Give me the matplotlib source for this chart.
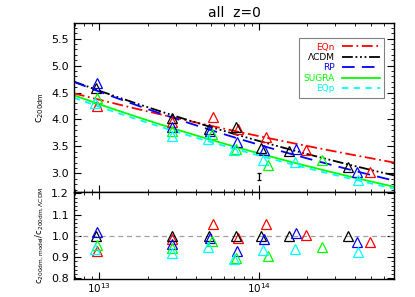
"""Concentration-mass relation for the dark-energy models at z=0, with ratios to LCDM."""

import numpy as np
import matplotlib
matplotlib.use("Agg")
import matplotlib.pyplot as plt
from matplotlib.ticker import MultipleLocator, LogLocator, NullFormatter

plt.rcParams["mathtext.default"] = "regular"

# ---- data --------------------------------------------------------------
models = ["EQn", "ΛCDM", "RP", "SUGRA", "EQp"]
colors = ["#ff0000", "#000000", "#0000ff", "#00ff00", "#00ffff"]
styles = [(0, (6, 2, 1, 2)), (0, (6, 1.5, 1, 1.5, 1, 1.5, 1, 1.5)),
          (0, (7, 4)), "-", (0, (3.5, 3))]

mass_eqn = [9.7e12, 2.86e13, 5.16e13, 7.39e13, 1.11e14, 1.96e14, 4.93e14]
conc_eqn = [4.25, 3.96, 4.04, 3.82, 3.68, 3.43, 3.02]

mass_lcdm = [9.5e12, 2.84e13, 4.85e13, 7.15e13, 1.03e14, 1.54e14, 3.60e14]
conc_lcdm = [4.58, 4.02, 3.83, 3.86, 3.48, 3.42, 3.11]

mass_rp = [9.6e12, 2.86e13, 4.91e13, 7.25e13, 1.07e14, 1.69e14, 4.10e14]
conc_rp = [4.67, 3.86, 3.79, 3.58, 3.43, 3.46, 3.02]

mass_sugra = [9.7e12, 2.86e13, 5.05e13, 7.2e13, 1.13e14, 2.47e14]
conc_sugra = [4.39, 3.79, 3.73, 3.45, 3.15, 3.24]

mass_eqp = [9.4e12, 2.84e13, 4.78e13, 6.98e13, 1.06e14, 1.67e14, 4.16e14]
conc_eqp = [4.30, 3.70, 3.63, 3.43, 3.25, 3.21, 2.87]

# power-law fits c = A (M / 1e14)^B
fit_norm = [3.69, 3.60, 3.53, 3.37, 3.33]
fit_slope = [-0.073, -0.100, -0.107, -0.104, -0.1045]

masses = [mass_eqn, mass_lcdm, mass_rp, mass_sugra, mass_eqp]
concs = [conc_eqn, conc_lcdm, conc_rp, conc_sugra, conc_eqp]

# typical error bar
err_mass = 1.0e14
err_conc = 2.94
err_size = 0.06

# ---- figure --------------------------------------------------------------
fig = plt.figure(figsize=(4.15, 2.97), dpi=100)
ax1 = fig.add_axes([0.178, 0.3525, 0.772, 0.5685])
ax2 = fig.add_axes([0.178, 0.0596, 0.772, 0.2929], sharex=ax1)

xlim = (6.92e12, 7.0e14)
mgrid = np.logspace(np.log10(xlim[0]), np.log10(xlim[1]), 200)

for name, col, ls, A, B in zip(models, colors, styles, fit_norm, fit_slope):
    ax1.plot(mgrid, A * (mgrid / 1e14) ** B, color=col, ls=ls, lw=1.3, label=name)

for m, c, col in zip(masses, concs, colors):
    ax1.plot(m, c, ls="none", marker="^", ms=7.5, mfc="none", mec=col, mew=0.9)

ax1.errorbar([err_mass], [err_conc], yerr=[err_size], fmt="none",
             ecolor="k", elinewidth=0.9, capsize=1.6, capthick=0.9)

ax2.axhline(1.0, color="#a0a0a0", ls=(0, (4, 3)), lw=0.9)
for m, c, col in zip(masses, concs, colors):
    ratio = np.array(c) / np.array(conc_lcdm[:len(c)])
    ax2.plot(m, ratio, ls="none", marker="^", ms=7.5, mfc="none", mec=col, mew=0.9)

ax1.set_xscale("log")
ax1.set_xlim(*xlim)
ax1.set_ylim(2.65, 5.78)
ax2.set_ylim(0.795, 1.205)

ax1.yaxis.set_major_locator(MultipleLocator(0.5))
ax1.yaxis.set_minor_locator(MultipleLocator(0.1))
ax2.yaxis.set_major_locator(MultipleLocator(0.1))
ax2.yaxis.set_minor_locator(MultipleLocator(0.02))
ax1.yaxis.set_major_formatter(plt.FormatStrFormatter("%.1f"))
ax2.yaxis.set_major_formatter(plt.FormatStrFormatter("%.1f"))
for ax in (ax1, ax2):
    ax.xaxis.set_major_locator(LogLocator(base=10, numticks=10))
    ax.xaxis.set_minor_locator(LogLocator(base=10, subs=np.arange(2, 10), numticks=20))
    ax.xaxis.set_minor_formatter(NullFormatter())
    ax.tick_params(which="both", direction="in", top=True, right=True, labelsize=8)
    ax.tick_params(which="major", length=5, width=0.8)
    ax.tick_params(which="minor", length=2.5, width=0.6)
    for s in ax.spines.values():
        s.set_linewidth(1.0)
ax1.tick_params(labelbottom=False)
ax2.tick_params(axis="x", pad=1.5, labelsize=7.5)

ax1.set_ylabel(r"$c_{200dm}$", fontsize=7)
ax2.set_ylabel(r"$c_{200dm,model}/c_{200dm,ΛCDM}$", fontsize=6)
ax1.set_title("all  z=0", fontsize=10, pad=5)

leg = ax1.legend(loc="upper right", bbox_to_anchor=(0.983, 0.94), fontsize=6.5,
                 markerfirst=False, labelcolor=colors, handlelength=4.2,
                 labelspacing=0.15, fancybox=False, framealpha=1,
                 edgecolor="#808080", borderpad=0.5, handletextpad=0.8)
leg.get_frame().set_linewidth(0.8)

fig.savefig("out.png", dpi=100)
